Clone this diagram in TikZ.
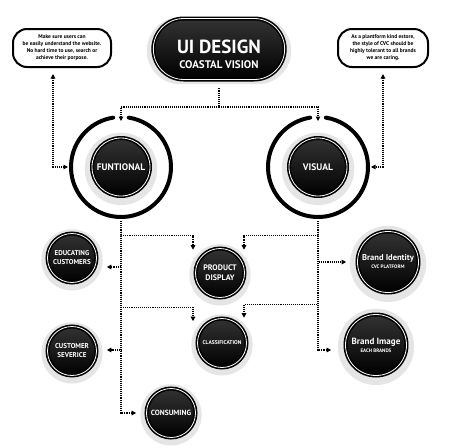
\documentclass[tikz,border=0pt]{standalone}
\usepackage{fontspec}
\setmainfont{PT Sans}
\usetikzlibrary{arrows.meta,shapes.misc,shadows}

\begin{document}
\begin{tikzpicture}[x=1pt,y=-1pt,>={Triangle[length=4.5pt,width=4.5pt]},semithick]
  \tikzstyle{glow}=[general shadow={fill=gray!20,shadow scale=#1,shadow yshift=-1.5pt}]
  \tikzstyle{disc}=[circle,draw=black,double=white,double distance=0.8pt,line width=1.6pt,
    top color=black!80,bottom color=black,text=white,align=center,inner sep=0pt]
  \tikzstyle{pill}=[rounded rectangle,draw=black,double=white,double distance=0.8pt,line width=1.6pt,
    top color=black!80,bottom color=black,text=white,align=center,
    minimum width=138pt,minimum height=61pt,font=\bfseries\fontsize{19}{19}\selectfont]
  \tikzstyle{note}=[draw=black,line width=2pt,rounded corners=14pt,fill=white,align=center,
    minimum height=38pt,inner sep=2pt,font=\bfseries\fontsize{5.5}{7}\selectfont]
  \tikzstyle{link}=[densely dotted,line width=1.1pt]
  \tikzstyle{ring}=[line width=4pt,line cap=round]

  \useasboundingbox[fill=white] (0,0) rectangle (459,448);

  % top row
  \node[pill,glow=1.1] (ui) at (219,49) {\rule{0pt}{25pt}UI DESIGN\\[-4pt]{\fontsize{11}{12}\selectfont COASTAL VISION}};
  \node[note,minimum width=98pt] (note1) at (62,48) {Make sure users can\\be easily understand the website.\\No hard time to use, search or\\achieve their porpose.};
  \node[note,minimum width=90pt] (note2) at (383,48) {As a plantform kind estore,\\the style of CVC should be\\highly tolerant to all brands\\we are caring.};

  % main branches
  \node[disc,glow=1.25,minimum size=58pt,font=\bfseries\fontsize{9.5}{10}\selectfont] (fun) at (121,167) {FUNTIONAL};
  \node[disc,glow=1.25,minimum size=58pt,font=\bfseries\fontsize{9.5}{10}\selectfont] (vis) at (318,167) {VISUAL};
  \draw[ring] (fun.center) ++(-81:50) arc (-81:261:50);
  \draw[ring] (vis.center) ++(-81:50) arc (-81:261:50);

  % leaves
  \node[disc,glow=1.25,minimum size=49pt,font=\bfseries\fontsize{7}{9}\selectfont] (edu) at (72,258) {EDUCATING\\CUSTOMERS};
  \node[disc,glow=1.25,minimum size=49pt,font=\bfseries\fontsize{7}{9}\selectfont] (cust) at (72,351) {CUSTOMER\\SEVERICE};
  \node[disc,glow=1.25,minimum size=49pt,font=\bfseries\fontsize{7.5}{9}\selectfont] (cons) at (171,413) {CONSUMING};
  \node[disc,glow=1.25,minimum size=49pt,font=\bfseries\fontsize{8}{10}\selectfont] (prod) at (220,273) {PRODUCT\\DISPLAY};
  \node[disc,glow=1.25,minimum size=49pt,font=\bfseries\fontsize{5.5}{7}\selectfont] (cls) at (222,343) {CLASSIFICATION};
  \node[disc,glow=1.25,minimum size=61pt,font=\bfseries\fontsize{8.5}{8}\selectfont] (bid) at (388,262) {Brand Identity\\{\fontsize{5}{6}\selectfont CVC PLATFORM}};
  \node[disc,glow=1.25,minimum size=61pt,font=\bfseries\fontsize{9}{8}\selectfont] (bim) at (376,345) {Brand Image\\{\fontsize{5}{6}\selectfont EACH BRANDS}};

  \coordinate (split) at (219,107);
  \coordinate (funtop) at (121,121);
  \coordinate (vistop) at (318,121);
  \coordinate (funW) at (68,167);
  \coordinate (visE) at (371,167);
  \coordinate (fbot) at (121,221);
  \coordinate (vbot) at (318,221);

  \draw[link] ([yshift=-8pt]ui.south) -- (split);
  \draw[link,->] (split) -| (funtop);
  \draw[link,->] (split) -| (vistop);
  \draw[link,<->] ([xshift=-9pt,yshift=-6pt]note1.south) |- (funW);
  \draw[link,<->] ([yshift=-6pt]note2.south) |- (visE);

  % left trunk
  \draw[link,->] (fbot) |- ([xshift=-27pt,yshift=12pt]prod.north) -- ([xshift=-27pt,yshift=-2pt]prod.north);
  \draw[link,->] (fbot) |- ([xshift=9.5pt,yshift=-9pt]edu.east);
  \draw[link,->] (fbot) |- ([xshift=-29pt,yshift=10.5pt]cls.north) -- ([xshift=-29pt,yshift=-3.5pt]cls.north);
  \draw[link,->] (fbot) |- ([xshift=9.5pt,yshift=1pt]cust.east);
  \draw[link,->] (fbot) |- ([xshift=-9.5pt]cons.west);

  % right trunk
  \draw[link,->] (vbot) |- ([xshift=24pt,yshift=12pt]prod.north) -- ([xshift=24pt,yshift=-2pt]prod.north);
  \draw[link,->] (vbot) |- ([xshift=-10.5pt]bid.west);
  \draw[link,->] (vbot) |- ([xshift=22pt,yshift=13.5pt]cls.north) -- ([xshift=22pt]cls.north);
  \draw[link,->] (vbot) |- ([xshift=-13.5pt,yshift=-5pt]bim.west);
\end{tikzpicture}
\end{document}
